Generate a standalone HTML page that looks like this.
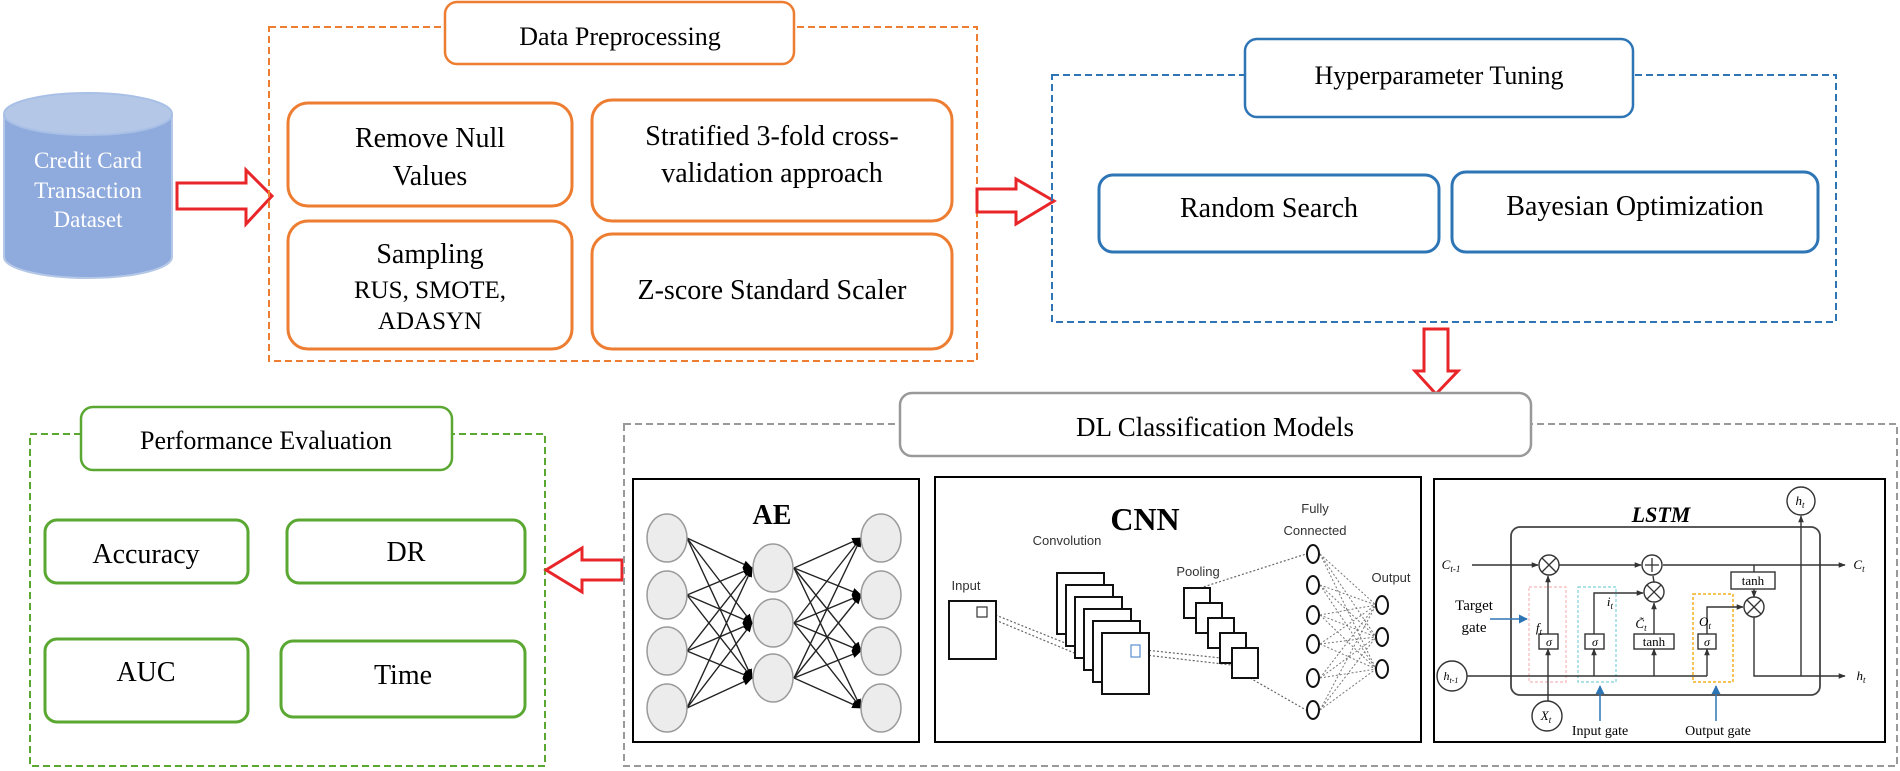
<!DOCTYPE html>
<html><head><meta charset="utf-8"><style>
html,body{margin:0;padding:0;background:#fff;}
svg{display:block;}
text{font-family:"Liberation Serif",serif;}
.s{font-family:"Liberation Sans",sans-serif;}
</style></head><body>
<svg width="1900" height="771" viewBox="0 0 1900 771" xmlns="http://www.w3.org/2000/svg">
<defs>
<marker id="ah" viewBox="0 0 10 10" refX="9" refY="5" markerWidth="7" markerHeight="7" orient="auto"><path d="M0,1 L10,5 L0,9 z" fill="#000"/></marker>
<marker id="ab" viewBox="0 0 10 10" refX="9" refY="5" markerWidth="6" markerHeight="6" orient="auto"><path d="M0,0 L10,5 L0,10 z" fill="#2e75b6"/></marker>
<marker id="as" viewBox="0 0 10 10" refX="9" refY="5" markerWidth="5" markerHeight="5" orient="auto"><path d="M0,1 L10,5 L0,9 z" fill="#333"/></marker>
</defs>

<!-- Cylinder -->
<path d="M4,114 L4,257 A84,21 0 0 0 172,257 L172,114 Z" fill="#8faadc" stroke="#b4c7e7" stroke-width="2"/>
<ellipse cx="88" cy="114" rx="84" ry="21" fill="#b4c7e7" stroke="#a9c0e6" stroke-width="2"/>
<g fill="#fff" font-size="23" text-anchor="middle">
<text x="88" y="168">Credit Card</text>
<text x="88" y="198">Transaction</text>
<text x="88" y="227">Dataset</text>
</g>

<!-- Arrow 1 -->
<path d="M177,183 L246,183 L246,170 L272,196 L246,224 L246,209 L177,209 Z" fill="#fff" stroke="#e8262a" stroke-width="3"/>

<!-- Data preprocessing -->
<rect x="269" y="27" width="708" height="334" fill="none" stroke="#ed7d31" stroke-width="2" stroke-dasharray="7,4"/>
<rect x="445" y="2" width="349" height="62" rx="12" fill="#fff" stroke="#ed7d31" stroke-width="2.5"/>
<text x="620" y="45" font-size="26" text-anchor="middle">Data Preprocessing</text>
<g fill="#fff" stroke="#ed7d31" stroke-width="3">
<rect x="288" y="103" width="284" height="103" rx="20"/>
<rect x="592" y="100" width="360" height="121" rx="20"/>
<rect x="288" y="221" width="284" height="128" rx="20"/>
<rect x="592" y="234" width="360" height="115" rx="20"/>
</g>
<g font-size="28" text-anchor="middle">
<text x="430" y="147">Remove Null</text>
<text x="430" y="185">Values</text>
<text x="772" y="145">Stratified 3-fold cross-</text>
<text x="772" y="182">validation approach</text>
<text x="430" y="263">Sampling</text>
<text x="430" y="298" font-size="25">RUS, SMOTE,</text>
<text x="430" y="329" font-size="25">ADASYN</text>
<text x="772" y="299">Z-score Standard Scaler</text>
</g>

<!-- Arrow 2 -->
<path d="M977,189 L1016,189 L1016,179 L1054,201 L1016,224 L1016,212 L977,212 Z" fill="#fff" stroke="#e8262a" stroke-width="3"/>

<!-- Hyperparameter -->
<rect x="1052" y="75" width="784" height="247" fill="none" stroke="#2e75b6" stroke-width="2" stroke-dasharray="7,4"/>
<rect x="1245" y="39" width="388" height="78" rx="12" fill="#fff" stroke="#2e75b6" stroke-width="2.5"/>
<text x="1439" y="84" font-size="26" text-anchor="middle">Hyperparameter Tuning</text>
<g fill="#fff" stroke="#2e75b6" stroke-width="3">
<rect x="1099" y="175" width="340" height="77" rx="14"/>
<rect x="1452" y="172" width="366" height="80" rx="14"/>
</g>
<g font-size="28" text-anchor="middle">
<text x="1269" y="217">Random Search</text>
<text x="1635" y="215">Bayesian Optimization</text>
</g>

<!-- Down arrow -->
<path d="M1424,329 L1448,329 L1448,371 L1458,371 L1436,394 L1415,371 L1424,371 Z" fill="#fff" stroke="#e8262a" stroke-width="3"/>

<!-- Performance -->
<rect x="30" y="434" width="515" height="332" fill="none" stroke="#5aa832" stroke-width="2" stroke-dasharray="7,4"/>
<rect x="81" y="407" width="371" height="63" rx="12" fill="#fff" stroke="#5aa832" stroke-width="2.5"/>
<text x="266" y="449" font-size="26" text-anchor="middle">Performance Evaluation</text>
<g fill="#fff" stroke="#5aa832" stroke-width="3">
<rect x="45" y="520" width="203" height="63" rx="12"/>
<rect x="287" y="520" width="238" height="63" rx="12"/>
<rect x="45" y="639" width="203" height="83" rx="12"/>
<rect x="281" y="641" width="244" height="76" rx="12"/>
</g>
<g font-size="28" text-anchor="middle">
<text x="146" y="563">Accuracy</text>
<text x="406" y="561">DR</text>
<text x="146" y="681">AUC</text>
<text x="403" y="684">Time</text>
</g>

<!-- Left arrow -->
<path d="M622,560 L582,560 L582,548 L546,570 L582,592 L582,580 L622,580 Z" fill="#fff" stroke="#e8262a" stroke-width="3"/>

<!-- DL -->
<rect x="624" y="424" width="1273" height="342" fill="none" stroke="#999" stroke-width="2" stroke-dasharray="7,4"/>
<rect x="900" y="393" width="631" height="63" rx="12" fill="#fff" stroke="#999" stroke-width="2.5"/>
<text x="1215" y="436" font-size="27" text-anchor="middle">DL Classification Models</text>

<!-- AE panel -->
<rect x="633" y="479" width="286" height="263" fill="#fff" stroke="#000" stroke-width="2"/>
<text x="772" y="524" font-size="28" font-weight="bold" text-anchor="middle">AE</text>
<g stroke="#222" stroke-width="1.4" marker-end="url(#ah)">
<line x1="687" y1="538" x2="752" y2="568"/><line x1="687" y1="538" x2="752" y2="623"/><line x1="687" y1="538" x2="752" y2="678"/>
<line x1="687" y1="595" x2="752" y2="568"/><line x1="687" y1="595" x2="752" y2="623"/><line x1="687" y1="595" x2="752" y2="678"/>
<line x1="687" y1="651" x2="752" y2="568"/><line x1="687" y1="651" x2="752" y2="623"/><line x1="687" y1="651" x2="752" y2="678"/>
<line x1="687" y1="708" x2="752" y2="568"/><line x1="687" y1="708" x2="752" y2="623"/><line x1="687" y1="708" x2="752" y2="678"/>
<line x1="794" y1="568" x2="861" y2="538"/><line x1="794" y1="568" x2="861" y2="595"/><line x1="794" y1="568" x2="861" y2="651"/><line x1="794" y1="568" x2="861" y2="708"/>
<line x1="794" y1="623" x2="861" y2="538"/><line x1="794" y1="623" x2="861" y2="595"/><line x1="794" y1="623" x2="861" y2="651"/><line x1="794" y1="623" x2="861" y2="708"/>
<line x1="794" y1="678" x2="861" y2="538"/><line x1="794" y1="678" x2="861" y2="595"/><line x1="794" y1="678" x2="861" y2="651"/><line x1="794" y1="678" x2="861" y2="708"/>
</g>
<g fill="#ececec" stroke="#9a9a9a" stroke-width="1.5">
<ellipse cx="667" cy="538" rx="20" ry="24"/><ellipse cx="667" cy="595" rx="20" ry="24"/><ellipse cx="667" cy="651" rx="20" ry="24"/><ellipse cx="667" cy="708" rx="20" ry="24"/>
<ellipse cx="773" cy="568" rx="20" ry="24"/><ellipse cx="773" cy="623" rx="20" ry="24"/><ellipse cx="773" cy="678" rx="20" ry="24"/>
<ellipse cx="881" cy="538" rx="20" ry="24"/><ellipse cx="881" cy="595" rx="20" ry="24"/><ellipse cx="881" cy="651" rx="20" ry="24"/><ellipse cx="881" cy="708" rx="20" ry="24"/>
</g>

<!-- CNN panel -->
<rect x="935" y="477" width="486" height="265" fill="#fff" stroke="#000" stroke-width="2"/>
<text x="1145" y="530" font-size="32" font-weight="bold" text-anchor="middle">CNN</text>
<g class="s" font-size="13" fill="#333" text-anchor="middle">
<text class="s" x="1067" y="545">Convolution</text>
<text class="s" x="966" y="590">Input</text>
<text class="s" x="1198" y="576">Pooling</text>
<text class="s" x="1315" y="513">Fully</text>
<text class="s" x="1315" y="535">Connected</text>
<text class="s" x="1391" y="582">Output</text>
</g>
<g stroke="#666" stroke-width="1.2" stroke-dasharray="2,2" fill="none">
<line x1="988" y1="612" x2="1120" y2="665"/><line x1="988" y1="617" x2="1120" y2="672"/>
<line x1="1145" y1="650" x2="1240" y2="660"/><line x1="1145" y1="655" x2="1240" y2="666"/>
<line x1="1200" y1="588" x2="1306" y2="554"/><line x1="1250" y1="678" x2="1306" y2="710"/>
</g>
<g fill="#fff" stroke="#111" stroke-width="2">
<rect x="949" y="601" width="47" height="58"/>
<rect x="1057" y="573" width="47" height="61"/>
<rect x="1066" y="585" width="47" height="61"/>
<rect x="1075" y="597" width="47" height="61"/>
<rect x="1084" y="609" width="47" height="61"/>
<rect x="1093" y="621" width="47" height="61"/>
<rect x="1102" y="633" width="47" height="61"/>
<rect x="1184" y="588" width="26" height="30"/>
<rect x="1196" y="603" width="26" height="30"/>
<rect x="1208" y="618" width="26" height="30"/>
<rect x="1220" y="633" width="26" height="30"/>
<rect x="1232" y="648" width="26" height="30"/>
</g>
<rect x="977" y="607" width="10" height="10" fill="none" stroke="#333" stroke-width="1.2"/>
<rect x="1131" y="645" width="9" height="12" fill="none" stroke="#5b8fd0" stroke-width="1.2"/>
<g stroke="#777" stroke-width="1" stroke-dasharray="2,2">
<line x1="1320" y1="554" x2="1376" y2="605"/><line x1="1320" y1="554" x2="1376" y2="637"/><line x1="1320" y1="554" x2="1376" y2="669"/>
<line x1="1320" y1="585" x2="1376" y2="605"/><line x1="1320" y1="585" x2="1376" y2="637"/><line x1="1320" y1="585" x2="1376" y2="669"/>
<line x1="1320" y1="615" x2="1376" y2="605"/><line x1="1320" y1="615" x2="1376" y2="637"/><line x1="1320" y1="615" x2="1376" y2="669"/>
<line x1="1320" y1="644" x2="1376" y2="605"/><line x1="1320" y1="644" x2="1376" y2="637"/><line x1="1320" y1="644" x2="1376" y2="669"/>
<line x1="1320" y1="678" x2="1376" y2="605"/><line x1="1320" y1="678" x2="1376" y2="637"/><line x1="1320" y1="678" x2="1376" y2="669"/>
<line x1="1320" y1="710" x2="1376" y2="605"/><line x1="1320" y1="710" x2="1376" y2="637"/><line x1="1320" y1="710" x2="1376" y2="669"/>
</g>
<g fill="#fff" stroke="#111" stroke-width="2">
<ellipse cx="1313" cy="554" rx="6" ry="9"/><ellipse cx="1313" cy="585" rx="6" ry="9"/><ellipse cx="1313" cy="615" rx="6" ry="9"/>
<ellipse cx="1313" cy="644" rx="6" ry="9"/><ellipse cx="1313" cy="678" rx="6" ry="9"/><ellipse cx="1313" cy="710" rx="6" ry="9"/>
<ellipse cx="1382" cy="605" rx="6" ry="9"/><ellipse cx="1382" cy="637" rx="6" ry="9"/><ellipse cx="1382" cy="669" rx="6" ry="9"/>
</g>

<!-- LSTM panel -->
<rect x="1434" y="479" width="451" height="263" fill="#fff" stroke="#000" stroke-width="2"/>
<text x="1661" y="522" font-size="22" font-weight="bold" font-style="italic" text-anchor="middle">LSTM</text>
<rect x="1511" y="527" width="309" height="168" rx="9" fill="none" stroke="#444" stroke-width="1.8"/>
<!-- gate dashed boxes -->
<rect x="1529" y="587" width="37" height="95" fill="none" stroke="#f4b8b8" stroke-width="1.2" stroke-dasharray="3,2"/>
<rect x="1578" y="587" width="38" height="95" fill="none" stroke="#7fd0d8" stroke-width="1.2" stroke-dasharray="3,2"/>
<rect x="1693" y="594" width="40" height="88" fill="none" stroke="#f0b020" stroke-width="1.5" stroke-dasharray="3,2"/>
<g stroke="#333" stroke-width="1.4" fill="none">
<line x1="1472" y1="565" x2="1538" y2="565" marker-end="url(#as)"/>
<line x1="1559" y1="565" x2="1641" y2="565" marker-end="url(#as)"/>
<line x1="1663" y1="565" x2="1845" y2="565" marker-end="url(#as)"/>
<line x1="1754" y1="565" x2="1754" y2="572"/>
<line x1="1754" y1="589" x2="1754" y2="597" marker-end="url(#as)"/>
<line x1="1467" y1="676" x2="1707" y2="676"/>
<polyline points="1754,617 1754,676 1845,676" marker-end="url(#as)"/>
<line x1="1801" y1="676" x2="1801" y2="516" marker-end="url(#as)"/>
<line x1="1548" y1="706" x2="1548" y2="649" marker-end="url(#as)"/>
<line x1="1548" y1="634" x2="1548" y2="576" marker-end="url(#as)"/>
<line x1="1594" y1="676" x2="1594" y2="649" marker-end="url(#as)"/>
<polyline points="1594,634 1594,593 1643,593" marker-end="url(#as)"/>
<line x1="1654" y1="676" x2="1654" y2="649" marker-end="url(#as)"/>
<line x1="1654" y1="634" x2="1654" y2="603" marker-end="url(#as)"/>
<line x1="1654" y1="582" x2="1653" y2="576"/>
<line x1="1707" y1="676" x2="1707" y2="649" marker-end="url(#as)"/>
<polyline points="1707,634 1707,607 1743,607" marker-end="url(#as)"/>
</g>
<g fill="#fff" stroke="#333" stroke-width="1.4">
<circle cx="1549" cy="565" r="10"/><circle cx="1652" cy="565" r="10"/><circle cx="1654" cy="592" r="10"/><circle cx="1754" cy="607" r="10"/>
<circle cx="1452" cy="676" r="15"/><circle cx="1547" cy="716" r="15"/><circle cx="1801" cy="501" r="14"/>
<rect x="1731" y="572" width="44" height="17"/>
<rect x="1539" y="634" width="19" height="15"/><rect x="1585" y="634" width="19" height="15"/><rect x="1698" y="634" width="18" height="15"/>
<rect x="1634" y="634" width="40" height="15"/>
</g>
<g stroke="#333" stroke-width="1.3">
<line x1="1542" y1="558" x2="1556" y2="572"/><line x1="1556" y1="558" x2="1542" y2="572"/>
<line x1="1647" y1="585" x2="1661" y2="599"/><line x1="1661" y1="585" x2="1647" y2="599"/>
<line x1="1747" y1="600" x2="1761" y2="614"/><line x1="1761" y1="600" x2="1747" y2="614"/>
<line x1="1645" y1="565" x2="1659" y2="565"/><line x1="1652" y1="558" x2="1652" y2="572"/>
</g>
<g font-size="12" font-style="italic" text-anchor="middle">
<text x="1549" y="646">σ</text><text x="1595" y="646">σ</text><text x="1707" y="646">σ</text>
<text x="1654" y="646" font-style="normal" font-size="13">tanh</text>
<text x="1753" y="585" font-style="normal" font-size="13">tanh</text>
<text x="1451" y="569" font-size="13">C<tspan font-size="9" dy="3">t-1</tspan></text>
<text x="1859" y="569" font-size="13">C<tspan font-size="9" dy="3">t</tspan></text>
<text x="1861" y="680" font-size="13">h<tspan font-size="9" dy="3">t</tspan></text>
<text x="1451" y="680" font-size="12">h<tspan font-size="8" dy="3">t-1</tspan></text>
<text x="1546" y="720" font-size="13">X<tspan font-size="9" dy="3">t</tspan></text>
<text x="1800" y="505" font-size="13">h<tspan font-size="9" dy="3">t</tspan></text>
<text x="1539" y="632" font-size="13">f<tspan font-size="9" dy="3">t</tspan></text>
<text x="1610" y="606" font-size="13">i<tspan font-size="9" dy="3">t</tspan></text>
<text x="1641" y="628" font-size="13">C̃<tspan font-size="9" dy="3">t</tspan></text>
<text x="1705" y="626" font-size="13">O<tspan font-size="9" dy="3">t</tspan></text>
<text x="1474" y="610" font-style="normal" font-size="15">Target</text>
<text x="1474" y="632" font-style="normal" font-size="15">gate</text>
<text x="1600" y="735" font-style="normal" font-size="14">Input gate</text>
<text x="1718" y="735" font-style="normal" font-size="14">Output gate</text>
</g>
<g stroke="#2e75b6" stroke-width="1.5">
<line x1="1490" y1="619" x2="1527" y2="619" marker-end="url(#ab)"/>
<line x1="1600" y1="721" x2="1600" y2="686" marker-end="url(#ab)"/>
<line x1="1716" y1="721" x2="1716" y2="686" marker-end="url(#ab)"/>
</g>
</svg>
</body></html>
